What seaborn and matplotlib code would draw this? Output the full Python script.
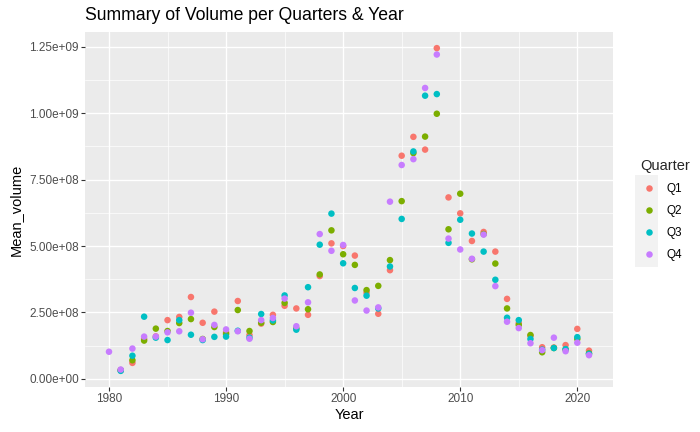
import numpy as np
import pandas as pd
import matplotlib
matplotlib.use("Agg")
import matplotlib.pyplot as plt
from matplotlib.ticker import FuncFormatter, MultipleLocator
from matplotlib.patches import Rectangle
import seaborn as sns

nan = np.nan
years = list(range(1980, 2022))
quarters = ["Q1", "Q2", "Q3", "Q4"]

# mean volume, in units of 1e8
q1 = [nan, 0.32, 0.60, 1.50, 1.60, 2.21, 2.33, 3.08, 2.11, 2.53, 1.75, 2.93, 1.65, 2.08,
      2.41, 2.75, 2.65, 2.41, 3.87, 5.10, 5.00, 4.64, 3.24, 2.45, 4.09, 8.40, 9.11, 8.63,
      12.45, 6.83, 6.23, 5.19, 5.53, 4.79, 3.01, 2.10, 1.62, 1.19, 1.18, 1.27, 1.88, 1.06]
q2 = [nan, 0.33, 0.70, 1.44, 1.89, 1.80, 2.10, 2.25, 1.50, 1.95, 1.69, 2.59, 1.80, 2.11,
      2.14, 2.86, 1.90, 2.62, 3.93, 5.59, 4.69, 4.29, 3.34, 3.50, 4.47, 6.69, 8.50, 9.12,
      9.98, 5.63, 6.97, 4.50, 5.45, 4.34, 2.65, 2.03, 1.65, 1.00, 1.16, 1.10, 1.50, 0.96]
q3 = [nan, 0.30, 0.87, 2.34, 1.55, 1.46, 2.21, 1.66, 1.46, 1.58, 1.59, 1.81, 1.55, 2.44,
      2.20, 3.14, 1.85, 3.45, 5.05, 6.22, 4.35, 3.42, 3.13, 2.65, 4.23, 6.02, 8.56, 10.66,
      10.72, 5.12, 5.99, 5.47, 4.79, 3.73, 2.30, 2.21, 1.50, 1.10, 1.16, 1.12, 1.57, 0.94]
q4 = [1.02, 0.35, 1.14, 1.59, 1.59, 1.75, 1.79, 2.49, 1.49, 2.03, 1.86, 1.79, 1.51, 2.21,
      2.29, 3.02, 1.98, 2.88, 5.45, 4.82, 5.04, 2.95, 2.57, 2.69, 6.67, 8.05, 8.27, 10.95,
      12.21, 5.28, 4.87, 4.52, 5.43, 3.49, 2.15, 1.91, 1.34, 1.08, 1.55, 1.04, 1.36, 0.89]

palette = ["#F8766D", "#7CAE00", "#00BFC4", "#C77CFF"]

rows = []
series = {"Q1": q1, "Q2": q2, "Q3": q3, "Q4": q4}
for i, y in enumerate(years):
    for q in quarters:
        v = series[q][i]
        if not np.isnan(v):
            rows.append({"Year": y, "Quarter": q, "Mean_volume": v * 1e8})
df = pd.DataFrame(rows)

sns.set_theme(style="darkgrid", rc={
    "axes.facecolor": "#EBEBEB",
    "grid.color": "white",
    "figure.facecolor": "white",
})
plt.rcParams["font.family"] = ["Liberation Sans", "DejaVu Sans"]

fig = plt.figure(figsize=(7.0, 4.32), dpi=100)
ax = fig.add_axes([85 / 700, 1 - 387 / 432, (613 - 85) / 700, (387 - 32) / 432])

sns.scatterplot(data=df, x="Year", y="Mean_volume", hue="Quarter",
                hue_order=quarters, palette=palette, s=22, linewidth=0,
                edgecolor="none", ax=ax, legend=True)

ax.set_xlim(1977.95, 2023.05)
ax.set_ylim(-0.3075e8, 13.0575e8)
ax.xaxis.set_major_locator(MultipleLocator(10))
ax.xaxis.set_minor_locator(MultipleLocator(5))
ax.yaxis.set_major_locator(MultipleLocator(2.5e8))
ax.yaxis.set_minor_locator(MultipleLocator(1.25e8))
ax.yaxis.set_major_formatter(FuncFormatter(lambda v, p: f"{v:.2e}"))
ax.xaxis.set_major_formatter(FuncFormatter(lambda v, p: f"{int(round(v))}"))

ax.grid(which="major", color="white", linewidth=1.0)
ax.grid(which="minor", color="white", linewidth=0.5)
ax.set_axisbelow(True)
for sp in ax.spines.values():
    sp.set_visible(False)

ax.tick_params(which="major", length=2.7, width=0.8, color="#333333",
               labelcolor="#4D4D4D", labelsize=8.45, pad=1.6,
               bottom=True, left=True)
ax.tick_params(which="minor", length=0, bottom=False, left=False)

ax.set_xlabel("Year", fontsize=10.56, color="black", labelpad=2.5)
ax.set_ylabel("Mean_volume", fontsize=10.56, color="black", labelpad=5)
fig.text(85 / 700, 1 - 15.5 / 432, "Summary of Volume per Quarters & Year",
         fontsize=12.67, color="black", ha="left", va="center")

handles, labels = ax.get_legend_handles_labels()
ax.get_legend().remove()
fig.patches.append(Rectangle((635 / 700, 1 - 267 / 432), 23 / 700, 92 / 432,
                             transform=fig.transFigure, facecolor="#F2F2F2",
                             edgecolor="none", zorder=0))
leg = fig.legend(handles, labels, title="Quarter", loc="upper left",
                 bbox_to_anchor=(631 / 700, 1 - 150 / 432), frameon=False,
                 fontsize=8.45, title_fontsize=10.56, labelspacing=0.85,
                 handletextpad=0.85, handlelength=1.4, borderpad=0.3)
leg._legend_box.align = "left"
for t in leg.get_texts():
    t.set_color("black")

fig.savefig("out.png", dpi=100)
